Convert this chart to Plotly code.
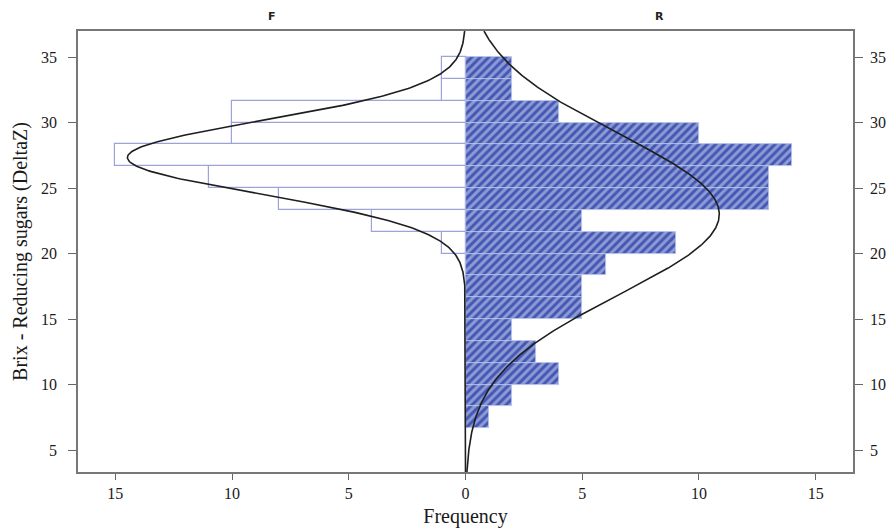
import numpy as np
import plotly.graph_objects as go

# Histogram bins (Brix - Reducing sugars, DeltaZ), bin width 5/3
bin_width = 5.0 / 3.0
bin_lower_edges = [20.0 / 3.0 + i * bin_width for i in range(17)]  # 6.67 ... 33.33
bin_centers = [e + bin_width / 2 for e in bin_lower_edges]

# Frequencies for group F (aligned with bin_centers, lowest bin first)
freq_F = [0, 0, 0, 0, 0, 0, 0, 0, 1, 4, 8, 11, 15, 10, 10, 1, 1]
# Frequencies for group R
freq_R = [1, 2, 4, 3, 2, 5, 5, 6, 9, 5, 13, 13, 14, 10, 4, 2, 2]

x_tick_vals = [-15, -10, -5, 0, 5, 10, 15]
x_tick_text = ["15", "10", "5", "0", "5", "10", "15"]
y_tick_vals = [5, 10, 15, 20, 25, 30, 35]
panel_labels = ["F", "R"]

y_range = [3.32, 37.0]
x_range = [-16.6, 16.6]


def normal_fit(counts):
    c = np.array(counts, dtype=float)
    m = np.array(bin_centers)
    n = c.sum()
    mu = (c * m).sum() / n
    sd = np.sqrt((c * (m - mu) ** 2).sum() / (n - 1))
    yy = np.linspace(y_range[0], y_range[1], 600)
    dens = n * bin_width / (sd * np.sqrt(2 * np.pi)) * np.exp(-0.5 * ((yy - mu) / sd) ** 2)
    return yy, dens


fig = go.Figure()

fig.add_trace(go.Bar(
    y=bin_centers, x=[-v for v in freq_F], orientation="h", width=bin_width,
    marker=dict(color="white", line=dict(color="#9da2d8", width=1.2)),
    hoverinfo="skip", showlegend=False,
))
fig.add_trace(go.Bar(
    y=bin_centers, x=freq_R, orientation="h", width=bin_width,
    marker=dict(color="#4557b4", line=dict(color="#b8c4ea", width=0.8),
                pattern=dict(shape="/", fgcolor="#d6e0f6", bgcolor="#4557b4",
                             size=6, solidity=0.5)),
    hoverinfo="skip", showlegend=False,
))

yyF, dF = normal_fit(freq_F)
fig.add_trace(go.Scatter(x=-dF, y=yyF, mode="lines",
                         line=dict(color="#1e1e1e", width=1.6),
                         hoverinfo="skip", showlegend=False))
yyR, dR = normal_fit(freq_R)
fig.add_trace(go.Scatter(x=dR, y=yyR, mode="lines",
                         line=dict(color="#1e1e1e", width=1.6),
                         hoverinfo="skip", showlegend=False))
# dummy trace to activate right axis
fig.add_trace(go.Scatter(x=[None], y=[None], yaxis="y2", showlegend=False,
                         hoverinfo="skip"))

serif = "Liberation Serif, Times New Roman, serif"
axis_font = dict(family=serif, size=16, color="#1a1a1a")
title_font = dict(family=serif, size=20, color="#1a1a1a")
fig.update_layout(
    width=891, height=528,
    margin=dict(l=78, r=38, t=31, b=56),
    paper_bgcolor="white", plot_bgcolor="white",
    barmode="overlay", bargap=0,
    xaxis=dict(range=x_range, tickvals=x_tick_vals, ticktext=x_tick_text,
               ticks="outside", ticklen=6, tickcolor="#666", tickwidth=1.2,
               showline=True, linecolor="#777", linewidth=1.5, mirror=True,
               showgrid=False, zeroline=False, tickfont=axis_font, automargin=False,
               title=dict(text="Frequency", font=title_font, standoff=10)),
    yaxis=dict(range=y_range, tickvals=y_tick_vals, ticks="outside", ticklen=8,
               ticklabelstandoff=8, automargin=False,
               tickcolor="#666", tickwidth=1.2, showline=True, linecolor="#777",
               linewidth=1.5, showgrid=False, zeroline=False, tickfont=axis_font,
               title=dict(text="Brix - Reducing sugars (DeltaZ)",
                          font=title_font, standoff=8)),
    yaxis2=dict(range=y_range, tickvals=y_tick_vals, overlaying="y", side="right",
                ticks="outside", ticklen=8, ticklabelstandoff=4, tickcolor="#666", tickwidth=1.2,
                showline=True, linecolor="#777", linewidth=1.5, showgrid=False,
                zeroline=False, tickfont=axis_font, automargin=False),
)

for lbl, xc in zip(panel_labels, [-8.3, 8.3]):
    fig.add_annotation(x=xc, y=1.0, xref="x", yref="paper", yanchor="bottom", yshift=6,
                       text="<b>%s</b>" % lbl, showarrow=False,
                       font=dict(family="DejaVu Sans, Arial, sans-serif", size=11, color="#222"))

fig.write_html("out.html")
